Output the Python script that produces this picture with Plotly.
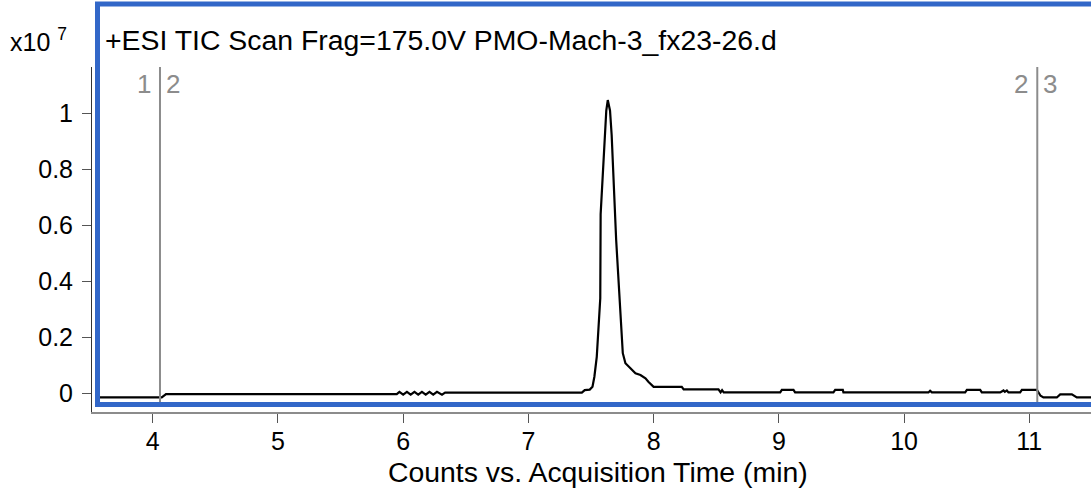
import plotly.graph_objects as go

# Total ion chromatogram, counts in units of 1e7
time_min = [
    3.56, 4.072, 4.106, 5.949,
    5.97, 6.00, 6.03, 6.06, 6.09, 6.12, 6.15, 6.18, 6.21, 6.24, 6.27, 6.31, 6.335,
    7.427, 7.45, 7.49, 7.512, 7.527, 7.546, 7.561, 7.574, 7.577, 7.595, 7.609, 7.622,
    7.634, 7.652, 7.665, 7.701, 7.754, 7.775, 7.815, 7.855, 7.895, 7.935, 7.958, 7.994,
    8.000, 8.225, 8.240, 8.518, 8.535, 8.547, 8.560, 9.011, 9.024, 9.117, 9.130,
    9.436, 9.450, 9.511, 9.516, 10.195, 10.208, 10.222, 10.488, 10.502, 10.608, 10.621,
    10.768, 10.794, 10.805, 10.821, 10.834, 10.927, 10.941, 11.061, 11.090, 11.113,
    11.220, 11.247, 11.340, 11.380, 11.500,
]
counts_e7 = [
    -0.014, -0.014, -0.002, -0.002,
    0.006, -0.004, 0.006, -0.004, 0.006, -0.004, 0.006, -0.004, 0.006, -0.004, 0.006, -0.004, 0.003,
    0.003, 0.012, 0.014, 0.024, 0.060, 0.131, 0.262, 0.340, 0.640, 0.800, 0.923, 1.010,
    1.048, 1.010, 0.923, 0.548, 0.144, 0.108, 0.090, 0.072, 0.066, 0.054, 0.042, 0.027,
    0.024, 0.024, 0.015, 0.015, 0.004, 0.012, 0.004, 0.004, 0.013, 0.013, 0.004,
    0.004, 0.013, 0.013, 0.004, 0.004, 0.010, 0.004, 0.004, 0.013, 0.013, 0.004,
    0.004, 0.011, 0.006, 0.011, 0.004, 0.004, 0.013, 0.013, -0.008, -0.014,
    -0.014, -0.003, -0.003, -0.014, -0.014,
]

# Integration window markers and their segment labels
marker_times = [4.058, 11.064]
marker_left_labels = ["1", "2"]
marker_right_labels = ["2", "3"]

x_ticks = [4, 5, 6, 7, 8, 9, 10, 11]
y_ticks = [0, 0.2, 0.4, 0.6, 0.8, 1]
y_tick_text = ["0", "0.2", "0.4", "0.6", "0.8", "1"]

title_text = "+ESI TIC Scan Frag=175.0V PMO-Mach-3_fx23-26.d"
x_title = "Counts vs. Acquisition Time (min)"

FONT = "Arial, Liberation Sans, sans-serif"
W, H = 1091, 495
ML, MR, MT, MB = 92, 0, 67, 83
PW, PH = W - ML - MR, H - MT - MB


def px(xp):
    return (xp - ML) / PW


def py(yp):
    return (H - MB - yp) / PH


fig = go.Figure()
fig.add_trace(go.Scatter(
    x=time_min, y=counts_e7, mode="lines",
    line=dict(color="black", width=2.2), hoverinfo="skip", showlegend=False,
))

shapes = []
annotations = []
for t, l_lab, r_lab in zip(marker_times, marker_left_labels, marker_right_labels):
    shapes.append(dict(type="line", xref="x", yref="y", x0=t, x1=t, y0=-0.03, y1=1.166,
                       line=dict(color="#8c8c8c", width=2), layer="above"))
    annotations.append(dict(x=t, y=py(84), xref="x", yref="paper", text=l_lab,
                            showarrow=False, xanchor="right", yanchor="middle", xshift=-7,
                            font=dict(family=FONT, size=26, color="#8c8c8c")))
    annotations.append(dict(x=t, y=py(84), xref="x", yref="paper", text=r_lab,
                            showarrow=False, xanchor="left", yanchor="middle", xshift=4,
                            font=dict(family=FONT, size=26, color="#8c8c8c")))

# Blue frame around the chromatogram panel
shapes.append(dict(type="rect", xref="paper", yref="paper",
                   x0=px(97.5), x1=px(1094), y0=py(404.5), y1=py(4),
                   line=dict(color="#3267c8", width=5), layer="above"))

annotations.append(dict(x=px(103), y=py(40), xref="paper", yref="paper", text=title_text,
                        showarrow=False, xanchor="left", yanchor="middle",
                        font=dict(family=FONT, size=28.4, color="black")))
annotations.append(dict(x=px(8), y=py(40), xref="paper", yref="paper",
                        text="x10 <sup>7</sup>",
                        showarrow=False, xanchor="left", yanchor="middle",
                        font=dict(family=FONT, size=25, color="black")))
annotations.append(dict(x=px(598), y=py(472), xref="paper", yref="paper", text=x_title,
                        showarrow=False, xanchor="center", yanchor="middle",
                        font=dict(family=FONT, size=28.4, color="black")))

fig.update_layout(
    width=W, height=H,
    margin=dict(l=ML, r=MR, t=MT, b=MB, pad=0),
    paper_bgcolor="white", plot_bgcolor="white",
    font=dict(family=FONT, size=25, color="black"),
    shapes=shapes, annotations=annotations,
    xaxis=dict(range=[3.515, 11.493], tickvals=x_ticks, ticks="outside", ticklen=9,
               tickcolor="#555555", tickwidth=1, showline=True, linecolor="#8c8c8c",
               linewidth=2, showgrid=False, zeroline=False, ticklabelstandoff=-3,
               tickfont=dict(family=FONT, size=25, color="black")),
    yaxis=dict(range=[-0.066, 1.166], tickvals=y_ticks, ticktext=y_tick_text,
               ticks="outside", ticklen=9, tickcolor="#555555", tickwidth=1,
               showline=True, linecolor="#333333", linewidth=1, showgrid=False,
               zeroline=False, ticklabelstandoff=4,
               tickfont=dict(family=FONT, size=25, color="black")),
)

fig.write_html("out.html")
